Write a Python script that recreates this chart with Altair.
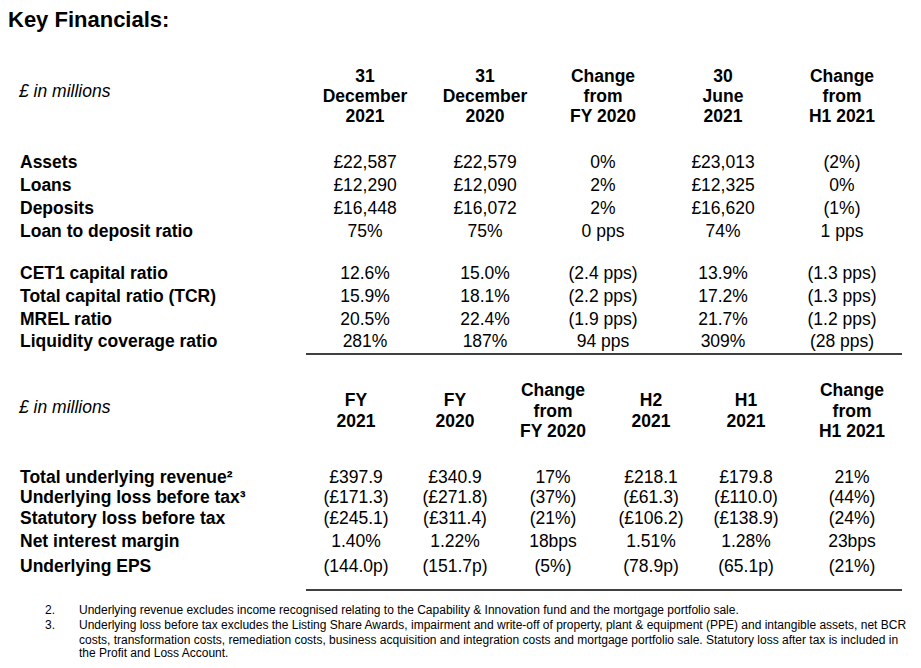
import altair as alt
import pandas as pd

# ---------------- data ----------------
title = "Key Financials:"
unit_label = "£ in millions"

sec1_headers = ["31\nDecember\n2021", "31\nDecember\n2020", "Change\nfrom\nFY 2020",
                "30\nJune\n2021", "Change\nfrom\nH1 2021"]
sec1_labels = ["Assets", "Loans", "Deposits", "Loan to deposit ratio",
               "CET1 capital ratio", "Total capital ratio (TCR)", "MREL ratio",
               "Liquidity coverage ratio"]
dec_2021 = ["£22,587", "£12,290", "£16,448", "75%", "12.6%", "15.9%", "20.5%", "281%"]
dec_2020 = ["£22,579", "£12,090", "£16,072", "75%", "15.0%", "18.1%", "22.4%", "187%"]
chg_fy2020 = ["0%", "2%", "2%", "0 pps", "(2.4 pps)", "(2.2 pps)", "(1.9 pps)", "94 pps"]
jun_2021 = ["£23,013", "£12,325", "£16,620", "74%", "13.9%", "17.2%", "21.7%", "309%"]
chg_h12021 = ["(2%)", "0%", "(1%)", "1 pps", "(1.3 pps)", "(1.3 pps)", "(1.2 pps)", "(28 pps)"]

sec2_headers = ["FY\n2021", "FY\n2020", "Change\nfrom\nFY 2020", "H2\n2021", "H1\n2021",
                "Change\nfrom\nH1 2021"]
sec2_labels = ["Total underlying revenue²", "Underlying loss before tax³",
               "Statutory loss before tax", "Net interest margin", "Underlying EPS"]
fy_2021 = ["£397.9", "(£171.3)", "(£245.1)", "1.40%", "(144.0p)"]
fy_2020 = ["£340.9", "(£271.8)", "(£311.4)", "1.22%", "(151.7p)"]
chg_fy = ["17%", "(37%)", "(21%)", "18bps", "(5%)"]
h2_2021 = ["£218.1", "(£61.3)", "(£106.2)", "1.51%", "(78.9p)"]
h1_2021 = ["£179.8", "(£110.0)", "(£138.9)", "1.28%", "(65.1p)"]
chg_h1 = ["21%", "(44%)", "(24%)", "23bps", "(21%)"]

footnote_nums = ["2.", "3."]
footnote_lines = [
    "Underlying revenue excludes income recognised relating to the Capability & Innovation fund and the mortgage portfolio sale.",
    "Underlying loss before tax excludes the Listing Share Awards, impairment and write-off of property, plant & equipment (PPE) and intangible assets, net BCR",
    "costs, transformation costs, remediation costs, business acquisition and integration costs and mortgage portfolio sale. Statutory loss after tax is included in",
    "the Profit and Loss Account.",
]

# ---------------- layout (page pixel grid) ----------------
W, H = 905, 652
FONT = "Liberation Sans"
label_x = 20
sec1_col_x = [365, 485, 603, 723, 842]
sec1_row_y = [168, 191, 214, 237, 279, 302, 325, 347]
sec1_head_y3 = [82, 102, 122]
sec1_unit_y = 97
sec1_rule = (306, 902, 354)

sec2_col_x = [356, 455, 553, 651, 746, 852]
sec2_row_y = [483, 503, 524, 547, 572]
sec2_head_y3 = [396, 417, 437]
sec2_head_y2 = [406, 427]
sec2_unit_y = 413
sec2_rule = (306, 902, 590)

foot_num_x, foot_text_x = 45, 79
foot_y = [614, 629, 644, 657]
foot_num_rows = [0, 1]
foot_size = 12

xs = alt.Scale(domain=[8, 8 + W], range=[0, W])
ys = alt.Scale(domain=[8, 8 + H], range=[0, H])


def enc():
    return dict(x=alt.X("x:Q", scale=xs, axis=None),
                y=alt.Y("y:Q", scale=ys, axis=None),
                text="t:N")


# header cells
head_rows = []
for hx, h in zip(sec1_col_x, sec1_headers):
    for yy, line in zip(sec1_head_y3, h.split("\n")):
        head_rows.append(dict(x=hx, y=yy, t=line))
for hx, h in zip(sec2_col_x, sec2_headers):
    lines = h.split("\n")
    ylist = sec2_head_y3 if len(lines) == 3 else sec2_head_y2
    for yy, line in zip(ylist, lines):
        head_rows.append(dict(x=hx, y=yy, t=line))
head_df = pd.DataFrame(head_rows)

# value cells
val_rows = []
for hx, col in zip(sec1_col_x, [dec_2021, dec_2020, chg_fy2020, jun_2021, chg_h12021]):
    for yy, v in zip(sec1_row_y, col):
        val_rows.append(dict(x=hx, y=yy, t=v))
for hx, col in zip(sec2_col_x, [fy_2021, fy_2020, chg_fy, h2_2021, h1_2021, chg_h1]):
    for yy, v in zip(sec2_row_y, col):
        val_rows.append(dict(x=hx, y=yy, t=v))
val_df = pd.DataFrame(val_rows)

# row labels
lab_rows = [dict(x=label_x, y=yy, t=l) for yy, l in zip(sec1_row_y, sec1_labels)]
lab_rows += [dict(x=label_x, y=yy, t=l) for yy, l in zip(sec2_row_y, sec2_labels)]
lab_df = pd.DataFrame(lab_rows)

unit_df = pd.DataFrame([dict(x=19, y=sec1_unit_y, t=unit_label),
                        dict(x=19, y=sec2_unit_y, t=unit_label)])
title_df = pd.DataFrame([dict(x=8, y=27, t=title)])

foot_num_df = pd.DataFrame([dict(x=foot_num_x, y=foot_y[r], t=n)
                            for r, n in zip(foot_num_rows, footnote_nums)])
foot_df = pd.DataFrame([dict(x=foot_text_x, y=yy, t=l) for yy, l in zip(foot_y, footnote_lines)])

rule_df = pd.DataFrame([dict(x=sec1_rule[0], x2=sec1_rule[1], y=sec1_rule[2]),
                        dict(x=sec2_rule[0], x2=sec2_rule[1], y=sec2_rule[2])])

base_text = dict(font=FONT, color="#000000", baseline="alphabetic")

title_layer = alt.Chart(title_df).mark_text(align="left", fontSize=22, fontWeight="bold",
                                            **base_text).encode(**enc())
unit_layer = alt.Chart(unit_df).mark_text(align="left", fontSize=17.5, fontStyle="italic",
                                          **base_text).encode(**enc())
head_layer = alt.Chart(head_df).mark_text(align="center", fontSize=17.5, fontWeight="bold",
                                          **base_text).encode(**enc())
lab_layer = alt.Chart(lab_df).mark_text(align="left", fontSize=17.5, fontWeight="bold",
                                        **base_text).encode(**enc())
val_layer = alt.Chart(val_df).mark_text(align="center", fontSize=17.5,
                                        **base_text).encode(**enc())
foot_num_layer = alt.Chart(foot_num_df).mark_text(align="left", fontSize=foot_size,
                                                  **base_text).encode(**enc())
foot_layer = alt.Chart(foot_df).mark_text(align="left", fontSize=foot_size,
                                          **base_text).encode(**enc())
rule_layer = alt.Chart(rule_df).mark_rule(color="#000000", strokeWidth=1.3).encode(
    x=alt.X("x:Q", scale=xs, axis=None),
    x2="x2:Q",
    y=alt.Y("y:Q", scale=ys, axis=None),
)

chart = alt.layer(rule_layer, title_layer, unit_layer, head_layer, lab_layer, val_layer,
                  foot_num_layer, foot_layer).properties(
    width=W, height=H, autosize=alt.AutoSizeParams(type="none"), padding=0,
    background="white",
).configure_view(stroke=None)

chart.save("out.html", embed_options={"renderer": "svg", "actions": False})
